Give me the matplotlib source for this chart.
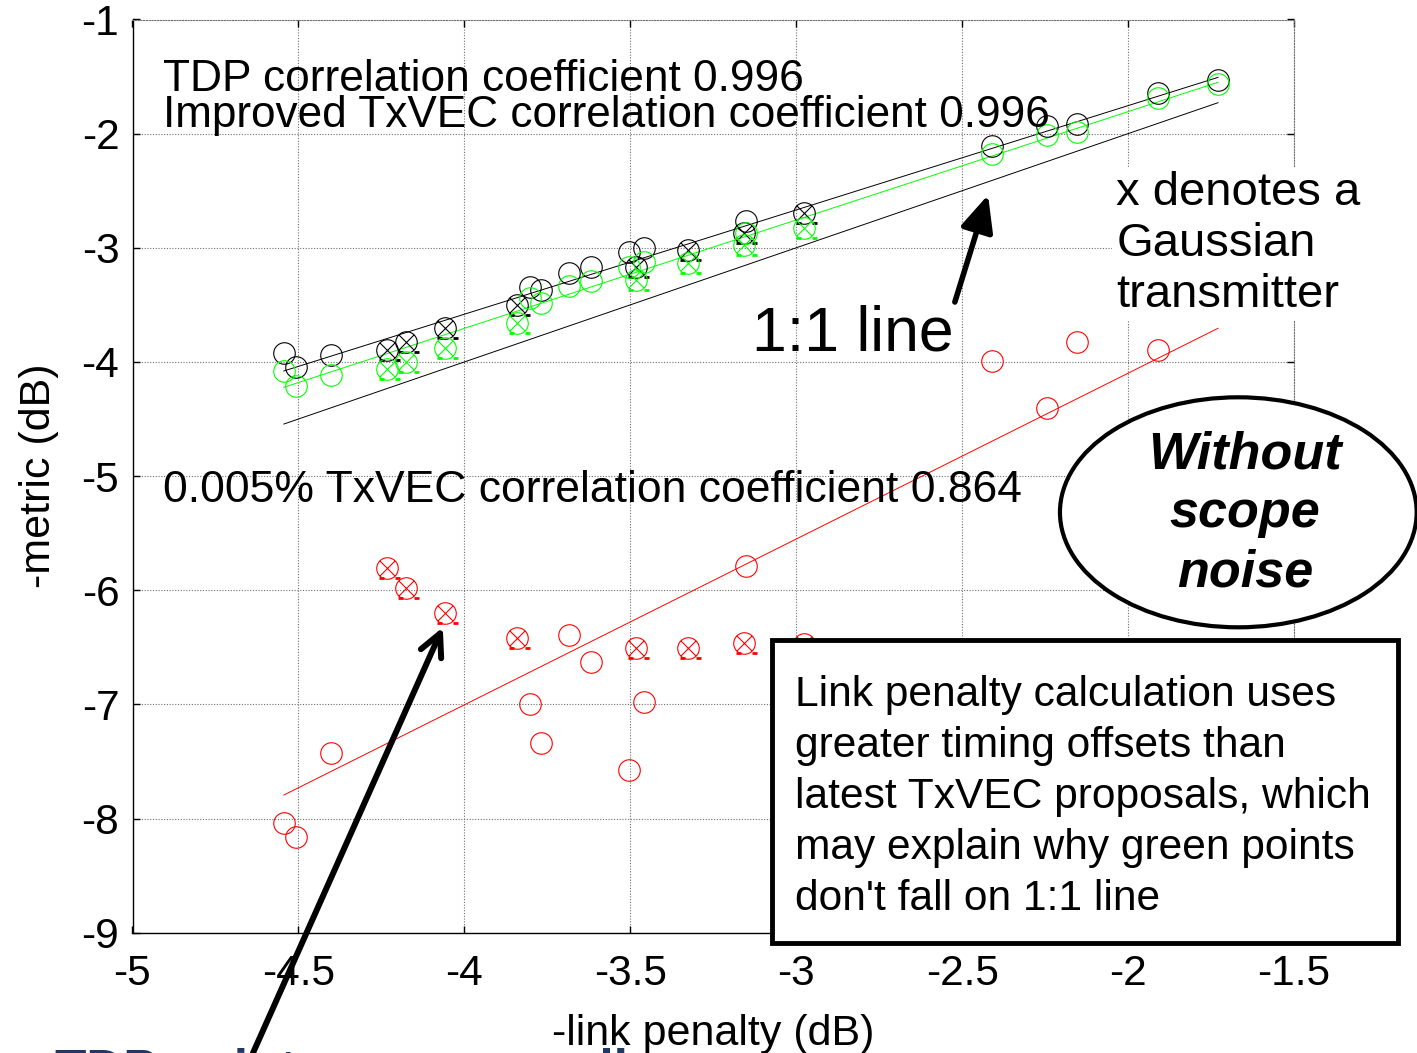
"""Link penalty vs. -metric scatter with fit lines and 1:1 reference (out.png)."""

import matplotlib
matplotlib.use("Agg")
import matplotlib.pyplot as plt
import matplotlib.ticker as ticker
import numpy as np
from matplotlib.path import Path
from matplotlib.patches import Ellipse, Rectangle

plt.rcParams["font.family"] = ["Liberation Sans", "DejaVu Sans"]
plt.rcParams["axes.unicode_minus"] = False

# ── Data ────────────────────────────────────────────────────────────────
link_penalty = np.array([-4.544, -4.508, -4.402, -4.233, -4.176, -4.058, -3.841,
                         -3.802, -3.768, -3.685, -3.619, -3.505, -3.483, -3.459,
                         -3.325, -3.157, -3.151, -2.978, -2.410, -2.245, -2.153,
                         -1.910, -1.729])
gaussian_tx = np.array([0, 0, 0, 1, 1, 1, 1, 0, 0, 0, 0, 0, 1, 0, 1, 1, 0, 1,
                        0, 0, 0, 0, 0], dtype=bool)
tdp_metric = np.array([-3.919, -4.042, -3.939, -3.895, -3.823, -3.705, -3.501,
                       -3.343, -3.369, -3.220, -3.168, -3.037, -3.168, -3.002,
                       -3.020, -2.870, -2.765, -2.695, -2.108, -1.933, -1.915,
                       -1.644, -1.530])
improved_metric = np.array([-4.079, -4.211, -4.114, -4.064, -3.998, -3.875, -3.656,
                            -3.440, -3.484, -3.335, -3.292, -3.168, -3.282, -3.124,
                            -3.133, -2.976, -2.870, -2.827, -2.178, -2.012, -1.986,
                            -1.688, -1.565])
txvec005_metric = np.array([-8.036, -8.159, -7.428, -5.807, -5.977, -6.197, -6.416,
                            -6.997, -7.336, -6.393, -6.631, -7.575, -6.509, -6.976,
                            -6.509, -6.465, -5.785, -6.470, -3.991, -4.403, -3.823,
                            -3.895, -5.200])

# fitted lines (end values at min / max link penalty)
tdp_fit = [-4.079, -1.507]
improved_fit = [-4.222, -1.550]
txvec005_fit = [-7.794, -3.705]

x_ticks = [-5, -4.5, -4, -3.5, -3, -2.5, -2, -1.5]
y_ticks = [-9, -8, -7, -6, -5, -4, -3, -2, -1]

note_lines = [
    "Link penalty calculation uses",
    "greater timing offsets than",
    "latest TxVEC proposals, which",
    "may explain why green points",
    "don't fall on 1:1 line",
]
ellipse_lines = ["Without", "scope", "noise"]

# ── Markers: circle with an x inside plus the two little ticks below ────
_S = 1.25  # common normalisation so all custom markers share a scale
_anchor = Path([(-_S, -_S), (_S, _S)], [Path.MOVETO, Path.MOVETO])
_c = 0.707
_xcross = Path([(-_c, -_c), (_c, _c), (-_c, _c), (_c, -_c)],
               [Path.MOVETO, Path.LINETO, Path.MOVETO, Path.LINETO])
CROSSED = Path.make_compound_path(Path.unit_circle(), _xcross, _anchor)
DASHES = Path.make_compound_path(
    Path([(-0.72, -0.92), (-0.28, -0.92), (0.78, -0.92), (1.2, -0.92)],
         [Path.MOVETO, Path.LINETO, Path.MOVETO, Path.LINETO]),
    _anchor)

MS = 15.5
MEW = 0.8


def _scatter(ax, x, y, crossed, color):
    ax.plot(x[~crossed], y[~crossed], linestyle="none", marker="o", ms=MS,
            mfc="none", mec=color, mew=MEW, zorder=4)
    ax.plot(x[crossed], y[crossed], linestyle="none", marker=CROSSED, ms=MS * _S,
            mfc="none", mec=color, mew=MEW, zorder=4)
    ax.plot(x[crossed], y[crossed], linestyle="none", marker=DASHES, ms=MS * _S,
            mfc="none", mec=color, mew=2.0, zorder=4)


W, H = 1417, 1053
fig = plt.figure(figsize=(W / 100, H / 100), dpi=100)
ax = fig.add_axes([132.5 / W, 1 - 932.7 / H, (1294 - 132.5) / W, (932.7 - 19.5) / H])

x_ends = [link_penalty.min(), link_penalty.max()]

# 1:1 reference and fitted lines
ax.plot(x_ends, x_ends, color="black", lw=0.7, zorder=3)
ax.plot(x_ends, tdp_fit, color="black", lw=0.7, zorder=3)
ax.plot(x_ends, improved_fit, color="#00ff00", lw=0.7, zorder=3)
ax.plot(x_ends, txvec005_fit, color="red", lw=0.7, zorder=3)

_scatter(ax, link_penalty, txvec005_metric, gaussian_tx, "red")
_scatter(ax, link_penalty, tdp_metric, gaussian_tx, "black")
_scatter(ax, link_penalty, improved_metric, gaussian_tx, "#00ff00")

ax.set_xlim(-5, -1.5)
ax.set_ylim(-9, -1)
ax.xaxis.set_major_locator(ticker.FixedLocator(x_ticks))
ax.yaxis.set_major_locator(ticker.FixedLocator(y_ticks))
ax.xaxis.set_major_formatter(ticker.FormatStrFormatter("%g"))
ax.yaxis.set_major_formatter(ticker.FormatStrFormatter("%g"))
ax.tick_params(direction="in", length=5, width=1.0, labelsize=30.5,
               top=True, right=True)
ax.tick_params(axis="x", pad=15)
ax.tick_params(axis="y", pad=9.5)
ax.grid(True, color="#6f6f6f", linestyle=(0, (1, 1.5)), lw=0.8)
ax.set_axisbelow(True)
for side in ("left", "bottom"):
    ax.spines[side].set_linewidth(1.0)
for side in ("top", "right"):
    ax.spines[side].set_color("#6f6f6f")
    ax.spines[side].set_linestyle((0, (1, 1.5)))
    ax.spines[side].set_linewidth(0.8)

ax.set_xlabel("-link penalty (dB)", fontsize=31)
ax.set_ylabel("-metric (dB)", fontsize=31)
ax.xaxis.set_label_coords(0.5, -0.089)
ax.yaxis.set_label_coords(-0.063, 0.5)

# ── Text annotations ────────────────────────────────────────────────────
ax.text(-4.908, -1.624, "TDP correlation coefficient 0.996", fontsize=31.9,
        va="baseline", zorder=5)
ax.text(-4.908, -1.939, "Improved TxVEC correlation coefficient 0.996",
        fontsize=31.8, va="baseline", zorder=5)
ax.text(-4.908, -5.224, "0.005% TxVEC correlation coefficient 0.864",
        fontsize=32, va="baseline", zorder=5)
# multi-line text: baseline refers to the last line ("transmitter")
ax.text(-2.035, -3.516, "x denotes a\nGaussian\ntransmitter", fontsize=34,
        va="baseline", linespacing=1.2, zorder=5,
        bbox=dict(facecolor="white", edgecolor="none", pad=3))
ax.text(-3.133, -3.904, "1:1 line", fontsize=45, va="baseline", zorder=5)

ax.annotate("", xy=(-2.422, -2.537), xytext=(-2.522, -3.475),
            arrowprops=dict(arrowstyle="-|>,head_length=1.1,head_width=0.5",
                            lw=4, color="black", shrinkA=0, shrinkB=0,
                            mutation_scale=20), zorder=6)
ax.annotate("", xy=(-4.065, -6.325), xytext=(-4.637, -10.054),
            arrowprops=dict(arrowstyle="->,head_length=0.8,head_width=0.4",
                            lw=4.3, color="black", shrinkA=0, shrinkB=0,
                            mutation_scale=20),
            annotation_clip=False, zorder=6)

# boxed note
fig.patches.append(Rectangle((772 / W, 1 - 943.3 / H), (1398 - 772) / W,
                             (943.3 - 640) / H, transform=fig.transFigure,
                             facecolor="white", edgecolor="black", lw=3.5,
                             zorder=2))
for i, line in enumerate(note_lines):
    fig.text(795 / W, 1 - (706 + 51 * i) / H, line, fontsize=30.6,
             va="baseline", ha="left", zorder=3)

# ellipse
fig.patches.append(Ellipse((1238.3 / W, 1 - 512.3 / H), 356.7 / W, 230 / H,
                           transform=fig.transFigure, facecolor="white",
                           edgecolor="black", lw=3.0, zorder=2))
for i, word in enumerate(ellipse_lines):
    fig.text(1245 / W, 1 - (468.3 + 59.2 * i) / H, word, fontsize=37.5,
             fontweight="bold", fontstyle="italic", ha="center",
             va="baseline", zorder=3)

# slide text cut off at the bottom
fig.text(55 / W, 1 - 1085.8 / H, "TDP points are generally", fontsize=37,
         fontweight="bold", color="#1f3864", ha="left", va="baseline")

fig.savefig("out.png", dpi=100)
